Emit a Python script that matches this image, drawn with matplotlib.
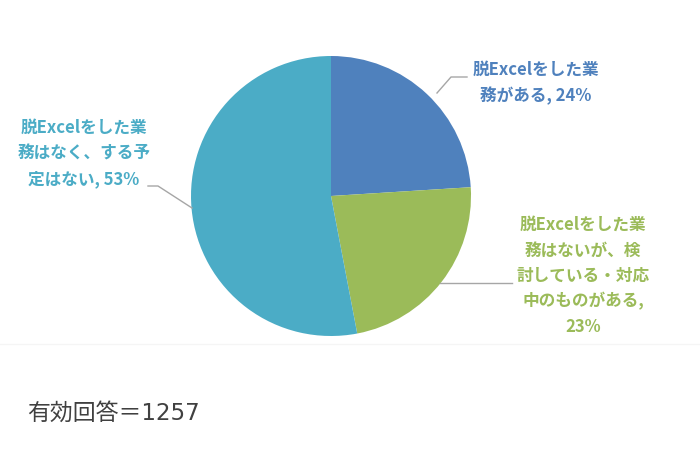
import matplotlib
matplotlib.use("Agg")
import matplotlib.pyplot as plt

plt.rcParams['font.family'] = ['Noto Sans CJK JP', 'DejaVu Sans']

# data
categories = ["脱Excelをした業務がある",
              "脱Excelをした業務はないが、検討している・対応中のものがある",
              "脱Excelをした業務はなく、する予定はない"]
values = [24, 23, 53]
colors = ["#4F81BD", "#9BBB59", "#4BACC6"]
label_lines = [
    ["脱Excelをした業", "務がある, {v}%"],
    ["脱Excelをした業", "務はないが、検", "討している・対応", "中のものがある,", "{v}%"],
    ["脱Excelをした業", "務はなく、する予", "定はない, {v}%"],
]
note = "有効回答＝1257"

W, H = 700, 449
fig = plt.figure(figsize=(W / 100, H / 100), dpi=100)
ax = fig.add_axes([0, 0, 1, 1])

cx, cy, r = 331, H - 196, 140
ax.pie(values, colors=colors, startangle=90, counterclock=False,
       center=(cx, cy), radius=r, wedgeprops=dict(linewidth=0),
       frame=True)
ax.set_xlim(0, W)
ax.set_ylim(0, H)
ax.set_aspect('equal')
ax.axis('off')

# label placement (pixel coords from top)
label_pos = [(536, 70), (583, 225), (84, 128)]
step = 25.5
for lines, (lx, ly), col, v in zip(label_lines, label_pos, colors, values):
    for i, ln in enumerate(lines):
        ax.text(lx, H - (ly + i * step), ln.format(v=v), color=col,
                fontsize=12, fontweight='bold', ha='center', va='center')

# leader lines
lc = "#A6A6A6"
ax.plot([437, 451, 467], [H - 93, H - 77, H - 77], color=lc, lw=1)
ax.plot([440, 512], [H - 283, H - 283], color=lc, lw=1)
ax.plot([148, 158, 192], [H - 186, H - 186, H - 208], color=lc, lw=1)

# faint separator
ax.plot([0, W], [H - 344, H - 344], color="#F5F5F5", lw=1)

ax.text(27, H - 413, note, color="#404040", fontsize=16.5, ha='left', va='center',
        family=['DejaVu Sans', 'Noto Sans CJK JP'])

fig.savefig("out.png", dpi=100)
